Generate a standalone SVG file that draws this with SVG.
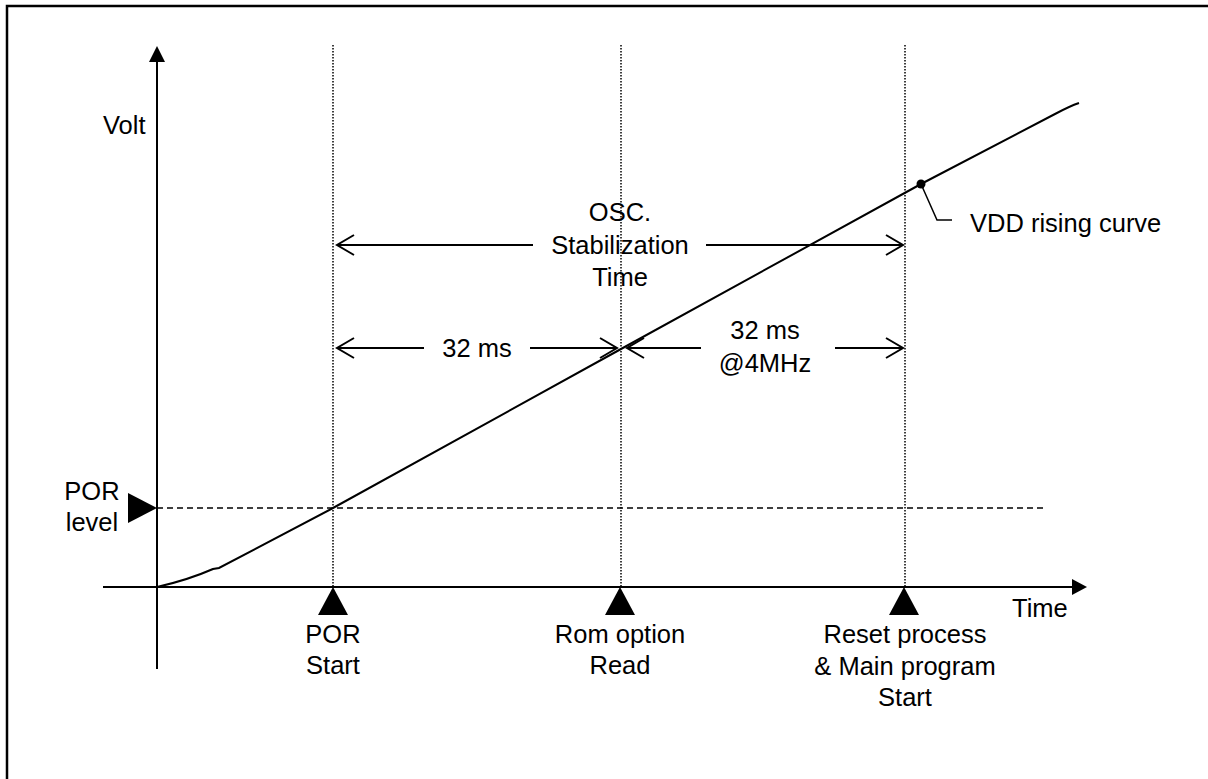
<svg xmlns="http://www.w3.org/2000/svg" width="1208" height="779" viewBox="0 0 1208 779">
<style>
.t{font-family:"Liberation Sans",Arial,sans-serif;font-size:25.5px;fill:#000}
.m{text-anchor:middle}
.ax{stroke:#000;stroke-width:2;fill:none}
.dot{stroke:#000;stroke-width:1.5;stroke-dasharray:1.5,1.5;fill:none}
.dim{stroke:#000;stroke-width:2;fill:none}
.mk{fill:#000;stroke:none}
</style>
<rect x="0" y="0" width="1208" height="779" fill="#fff"/>
<path d="M7,779 V6 H1208" fill="none" stroke="#000" stroke-width="2.5"/>
<g id="connectors">
<line class="dot" x1="333" y1="45" x2="333" y2="587"/>
<line class="dot" x1="621" y1="45" x2="621" y2="587"/>
<line class="dot" x1="905" y1="45" x2="905" y2="587"/>
<line x1="157" y1="508" x2="1043" y2="508" stroke="#000" stroke-width="1.5" stroke-dasharray="6,4"/>
<path class="dim" d="M533,245 H337 M354,235 L337,245 L354,255"/>
<path class="dim" d="M706,245 H903 M886,235 L903,245 L886,255"/>
<path class="dim" d="M424,348 H337 M354,338 L337,348 L354,358"/>
<path class="dim" d="M530,348 H617 M600,338 L617,348 L600,358"/>
<path class="dim" d="M701,348 H627 M644,338 L627,348 L644,358"/>
<path class="dim" d="M835,348 H903 M886,338 L903,348 L886,358"/>
</g>
<g id="axes">
<line class="ax" x1="157" y1="60" x2="157" y2="669"/>
<polygon class="mk" points="157,46 149,62 165,62"/>
<line class="ax" x1="103" y1="587" x2="1074" y2="587"/>
<polygon class="mk" points="1087,587 1072,579 1072,595"/>
<text class="t" x="103" y="134">Volt</text>
<text class="t" x="1012" y="617">Time</text>
</g>
<g id="vdd-curve">
<path d="M157,587 Q188,580 213,569 L219,568 L333,508 L621,349 L921,184 L1055,114 Q1070,106 1079,103" stroke="#000" stroke-width="2" fill="none"/>
<circle cx="921" cy="184" r="4.5" fill="#000"/>
<path d="M921,184 L937,220 L952,220" stroke="#000" stroke-width="1.5" fill="none"/>
<text class="t" x="970" y="232">VDD rising curve</text>
</g>
<g id="por-level">
<polygon class="mk" points="157,508 128,493 128,523"/>
<text class="t m" x="92" y="500">POR</text>
<text class="t m" x="92" y="531">level</text>
</g>
<g id="por-start">
<polygon class="mk" points="333,587 318,615 348,615"/>
<text class="t m" x="333" y="643">POR</text>
<text class="t m" x="333" y="674">Start</text>
</g>
<g id="rom-read">
<polygon class="mk" points="620,587 605,615 635,615"/>
<text class="t m" x="620" y="643">Rom option</text>
<text class="t m" x="620" y="674">Read</text>
</g>
<g id="reset-start">
<polygon class="mk" points="904,587 889,615 919,615"/>
<text class="t m" x="905" y="643">Reset process</text>
<text class="t m" x="905" y="675">&amp; Main program</text>
<text class="t m" x="905" y="706">Start</text>
</g>
<g id="osc-label">
<text class="t m" x="620" y="221">OSC.</text>
<text class="t m" x="620" y="254">Stabilization</text>
<text class="t m" x="620" y="286">Time</text>
</g>
<g id="ms-labels">
<text class="t m" x="477" y="357">32 ms</text>
<text class="t m" x="765" y="339">32 ms</text>
<text class="t m" x="765" y="372">@4MHz</text>
</g>
</svg>
